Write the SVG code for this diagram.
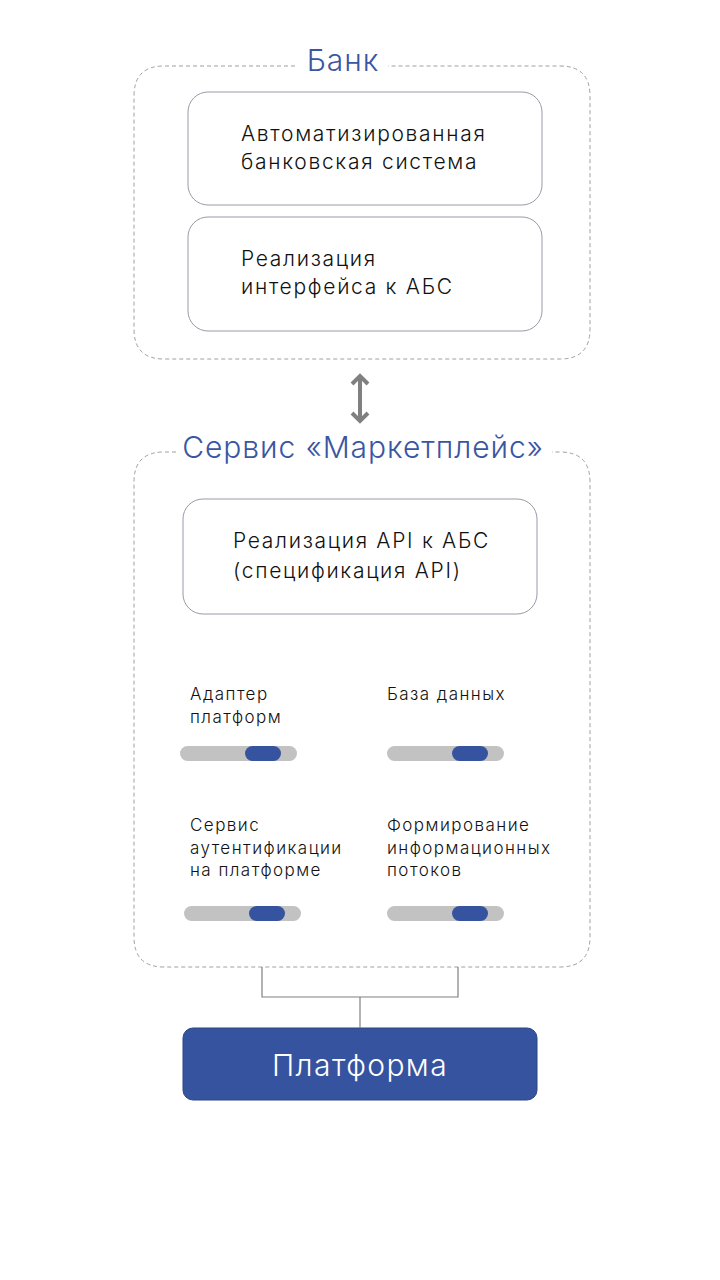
<svg xmlns="http://www.w3.org/2000/svg" width="720" height="1280" viewBox="0 0 720 1280">
<defs>
<style>
.grp{fill:none;stroke:#a0a0a0;stroke-width:1;stroke-dasharray:4 3}
.box{fill:#fff;stroke:#9a9aa6;stroke-width:1}
.title{font-family:Inter,"Noto Sans",sans-serif;font-size:30px;font-weight:300;letter-spacing:0.95px;fill:#3a56a3;text-anchor:middle}
.t{font-family:Inter,"Noto Sans",sans-serif;font-size:21px;font-weight:300;letter-spacing:1.7px;fill:#111}
.s{font-family:Inter,"Noto Sans",sans-serif;font-size:17px;font-weight:300;letter-spacing:1.45px;fill:#111}
.track{fill:#c2c2c2}
.knob{fill:#36539f}
.conn{fill:none;stroke:#808080;stroke-width:1.2}
</style>
<marker id="ah" viewBox="0 0 10 10" refX="5" refY="5" markerWidth="5" markerHeight="5" orient="auto-start-reverse" markerUnits="strokeWidth">
<path d="M1,1 L5,5 L1,9" fill="none" stroke="#808080" stroke-width="2"/>
</marker>
</defs>
<rect width="720" height="1280" fill="#fff"/>

<g id="bank">
<path class="grp" d="M295,66 H164 Q134,66 134,96 V329 Q134,359 164,359 H560 Q590,359 590,329 V96 Q590,66 560,66 H388"/>
<text class="title" x="343" y="71">Банк</text>
</g>
<g id="abs">
<rect class="box" x="188" y="92" width="354" height="113" rx="20"/>
<text class="t" x="241" y="141">Автоматизированная</text>
<text class="t" x="241" y="169">банковская система</text>
</g>
<g id="abs-interface">
<rect class="box" x="188" y="217" width="354" height="114" rx="20"/>
<text class="t" x="241" y="266">Реализация</text>
<text class="t" x="241" y="294">интерфейса к АБС</text>
</g>

<g id="marketplace">
<path class="grp" d="M176,452 H164 Q134,452 134,482 V937 Q134,967 164,967 H560 Q590,967 590,937 V482 Q590,452 560,452 H552"/>
<text class="title" x="363" y="458">Сервис «Маркетплейс»</text>
</g>
<g id="api">
<rect class="box" x="183" y="499" width="354" height="115" rx="20"/>
<text class="t" x="233" y="548">Реализация API к АБС</text>
<text class="t" x="233" y="578">(спецификация API)</text>
</g>
<g id="adapter">
<text class="s" x="190" y="700">Адаптер</text>
<text class="s" x="190" y="723">платформ</text>
<rect class="track" x="180" y="746" width="117" height="15" rx="7.5"/>
<rect class="knob" x="245" y="746" width="36" height="15" rx="7.5"/>
</g>
<g id="database">
<text class="s" x="387" y="700">База данных</text>
<rect class="track" x="387" y="746" width="117" height="15" rx="7.5"/>
<rect class="knob" x="452" y="746" width="36" height="15" rx="7.5"/>
</g>
<g id="auth">
<text class="s" x="190" y="831">Сервис</text>
<text class="s" x="190" y="854">аутентификации</text>
<text class="s" x="190" y="876">на платформе</text>
<rect class="track" x="184" y="906" width="117" height="15" rx="7.5"/>
<rect class="knob" x="249" y="906" width="36" height="15" rx="7.5"/>
</g>
<g id="flows">
<text class="s" x="387" y="831">Формирование</text>
<text class="s" x="387" y="854">информационных</text>
<text class="s" x="387" y="876">потоков</text>
<rect class="track" x="387" y="906" width="117" height="15" rx="7.5"/>
<rect class="knob" x="452" y="906" width="36" height="15" rx="7.5"/>
</g>

<g id="platform">
<rect x="183" y="1028" width="354" height="72" rx="10" fill="#36539f" stroke="#2c4486" stroke-width="1"/>
<text x="360" y="1076" font-family="Inter,'Noto Sans',sans-serif" font-size="30" font-weight="300" letter-spacing="1.4" fill="#fff" text-anchor="middle">Платформа</text>
</g>

<g id="connectors">
<line x1="360" y1="376" x2="360" y2="421" stroke="#808080" stroke-width="4" marker-start="url(#ah)" marker-end="url(#ah)"/>
<path class="conn" d="M262,967 V997 H458 V967"/>
<path class="conn" d="M360,997 V1028"/>
</g>
</svg>
